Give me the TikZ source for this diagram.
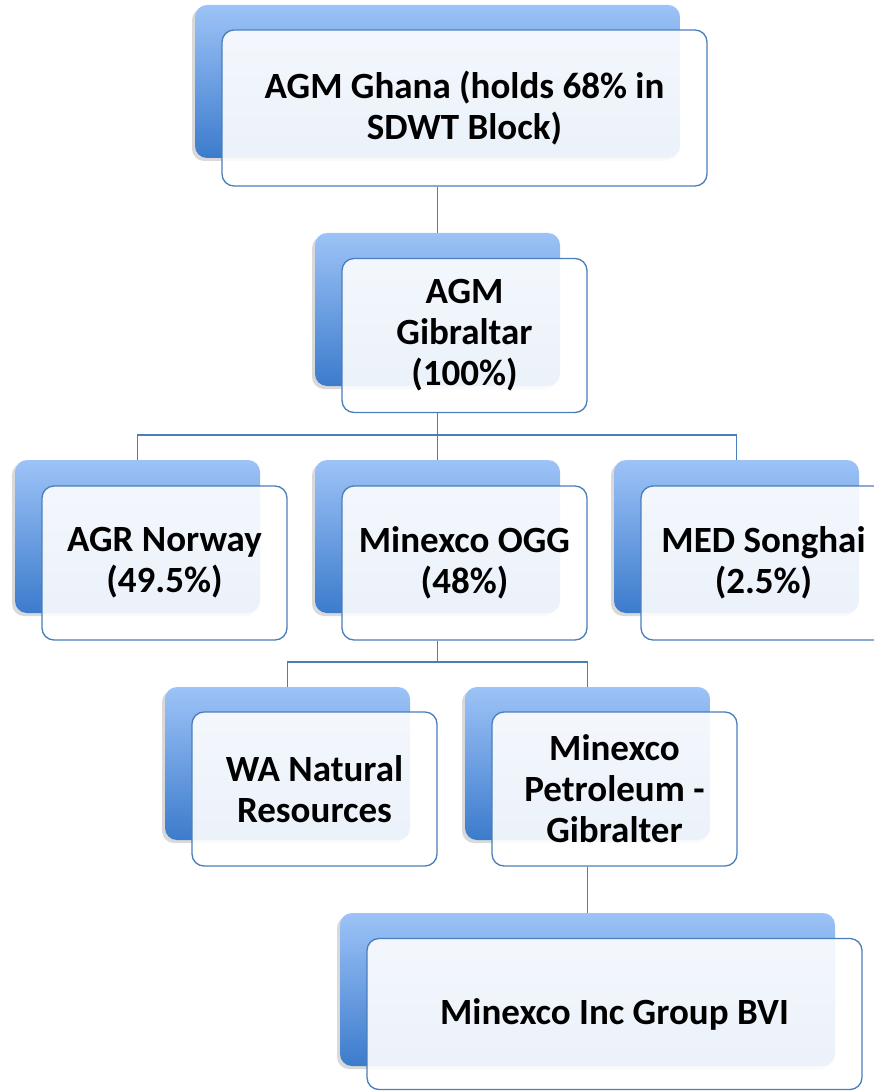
\documentclass[tikz,border=0pt]{standalone}
\usepackage{fontspec}
\setmainfont{Carlito}
\usetikzlibrary{shadows,backgrounds}
\definecolor{bluetop}{HTML}{9DC3F7}
\definecolor{bluebot}{HTML}{3C7BCC}
\definecolor{edge}{HTML}{4A7EBB}
\tikzset{
  backbox/.style={rounded corners=12pt, minimum width=245pt, minimum height=153pt,
    top color=bluetop, bottom color=bluebot, draw=none, inner sep=0pt,
    drop shadow={shadow xshift=-3pt, shadow yshift=-3pt, opacity=0.3}},
  frontbox/.style={rounded corners=12pt, minimum width=245pt, minimum height=154pt,
    draw=edge, line width=1.3pt, fill=white, fill opacity=0.9, text opacity=1,
    align=center, font=\fontsize{37}{41}\selectfont\bfseries, inner sep=0pt},
  link/.style={draw=edge, line width=1.1pt}
}
\begin{document}
\begin{tikzpicture}[x=1pt,y=-1pt]
\useasboundingbox (0,0) rectangle (874,1091);
\node[backbox, minimum width=485pt] (b1) at (437.5,81.5) {};
\node[frontbox, minimum width=485pt, minimum height=156pt] (f1) at (464.5,108) {AGM Ghana (holds 68\% in\\SDWT Block)};
\node[backbox] (b2) at (437.5,309.5) {};
\node[frontbox] (f2) at (464.5,335.5) {AGM\\Gibraltar\\(100\%)};
\node[backbox] (b3) at (137.5,536.5) {};
\node[frontbox] (f3) at (164.5,563) {AGR Norway\\(49.5\%)};
\node[backbox] (b4) at (437.5,536.5) {};
\node[frontbox] (f4) at (464.5,563) {Minexco OGG\\(48\%)};
\node[backbox] (b5) at (736.5,536.5) {};
\node[frontbox] (f5) at (763.5,563) {MED Songhai\\(2.5\%)};
\node[backbox] (b6) at (287.5,763.5) {};
\node[frontbox] (f6) at (314.5,789) {WA Natural\\Resources};
\node[backbox] (b7) at (587.5,763.5) {};
\node[frontbox] (f7) at (614.5,789) {Minexco\\Petroleum -\\Gibralter};
\node[backbox, minimum width=495pt] (b8) at (587.5,989.5) {};
\node[frontbox, minimum width=495pt, minimum height=151pt] (f8) at (614.5,1014) {Minexco Inc Group BVI};
\coordinate (j1) at (437.5,435);
\coordinate (j2) at (437.5,662);
\begin{pgfonlayer}{background}
\draw[link] (f1.south -| b2.north) -- (b2.north);
\draw[link] (f2.south -| b4.north) -- (j1);
\draw[link] (b3.north) |- (j1) -| (b5.north);
\draw[link] (j1) -- (b4.north);
\draw[link] (f4.south -| b4.north) -- (j2);
\draw[link] (b6.north) |- (j2) -| (b7.north);
\draw[link] (f7.south -| b8.north) -- (b8.north);
\end{pgfonlayer}
\end{tikzpicture}
\end{document}
